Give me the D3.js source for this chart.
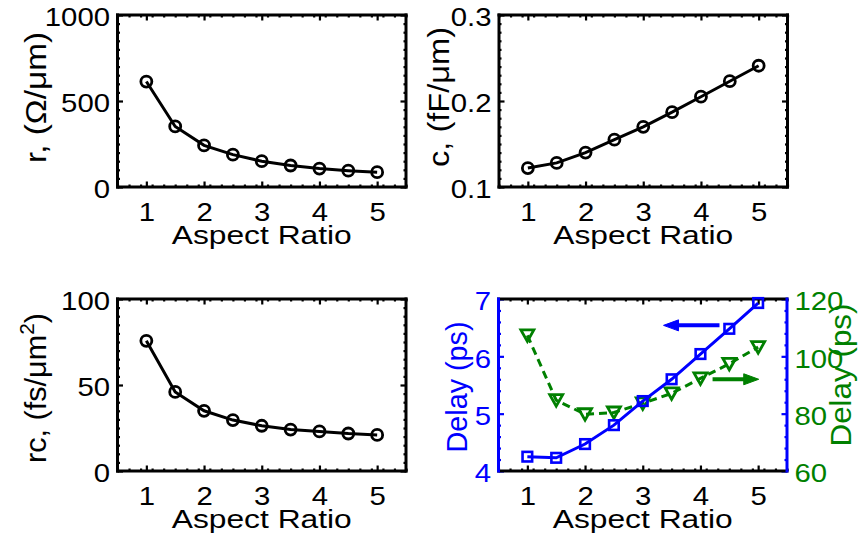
<!DOCTYPE html>
<html>
<head>
<meta charset="utf-8">
<script src="https://cdn.jsdelivr.net/npm/d3@7"></script>
<style>
  body { margin: 0; background: #fff; }
  svg { display: block; }
</style>
</head>
<body>
<svg id="chart" width="861" height="544"></svg>
<script>
// Interconnect parameters versus wire aspect ratio
const aspectRatio  = [1, 1.5, 2, 2.5, 3, 3.5, 4, 4.5, 5];
const resistance   = [613, 352, 242, 188, 150, 125, 107, 95, 86];          // Ω/µm
const capacitance  = [0.122, 0.128, 0.140, 0.155, 0.170, 0.187, 0.205, 0.223, 0.241]; // fF/µm
const rcProduct    = [75.7, 46, 35, 29.6, 26.3, 24.1, 23, 21.8, 21];      // fs/µm²
const delayLeft    = [4.25, 4.23, 4.47, 4.80, 5.22, 5.60, 6.04, 6.48, 6.93]; // ps, left axis
const delayRight   = [107.3, 84.7, 79.8, 80.4, 83.6, 87.1, 92.3, 97.4, 103.2]; // ps, right axis

// tick labels
const xTicks          = [1, 2, 3, 4, 5];
const rTicks          = [0, 500, 1000];
const cTicks          = [0.1, 0.2, 0.3];
const rcTicks         = [0, 50, 100];
const delayTicks      = [4, 5, 6, 7];
const delayRightTicks = [60, 80, 100, 120];

// axis-pointer arrows (data coordinates)
const leftArrowX  = [4.33, 3.36];
const leftArrowY  = [6.54, 6.54];
const rightArrowX = [4.21, 5.01];
const rightArrowY = [92, 92];

const FONT = "'Liberation Sans', Arial, Helvetica, sans-serif";
const BLUE = "#0000ff", GREEN = "#008000", BLACK = "#000";
const W = 288.5, H = 172;
const TICK_FS = 25.5, TICK_SX = 1.15;
const plain = d => String(d);

const svg = d3.select("#chart");

function minorValues(domain, step, majors) {
  const n = Math.round((domain[1] - domain[0]) / step);
  const out = [];
  for (let i = 0; i <= n; i++) {
    const v = domain[0] + i * step;
    if (!majors.some(m => Math.abs(m - v) < step / 10)) out.push(v);
  }
  return out;
}

function styleAxis(sel, color, showText) {
  sel.select(".domain").remove();
  sel.selectAll(".tick line").attr("stroke", color).attr("stroke-width", 2.2);
  const t = sel.selectAll(".tick text");
  if (!showText) { t.remove(); return; }
  t.attr("font-family", FONT).attr("font-size", TICK_FS).attr("fill", color)
   .attr("transform", `scale(${TICK_SX},1)`);
}

function addTicks(g, x, y, o) {
  const xMinor = minorValues(x.domain(), 0.2, xTicks);
  const yMinor = minorValues(y.domain(), o.yMinorStep, o.yTicks);
  // bottom
  g.append("g").attr("transform", `translate(0,${H})`)
    .call(d3.axisBottom(x).tickValues(xTicks).tickFormat(plain).tickSizeInner(-5.5).tickSizeOuter(0).tickPadding(16))
    .call(s => styleAxis(s, BLACK, true))
    .selectAll(".tick text").attr("dy", "0.71em");
  g.append("g").attr("transform", `translate(0,${H})`)
    .call(d3.axisBottom(x).tickValues(xMinor).tickSize(-2.5).tickFormat(""))
    .call(s => styleAxis(s, BLACK, false));
  // top
  g.append("g")
    .call(d3.axisTop(x).tickValues(xTicks).tickSize(-5.5).tickFormat(""))
    .call(s => styleAxis(s, BLACK, false));
  g.append("g")
    .call(d3.axisTop(x).tickValues(xMinor).tickSize(-2.5).tickFormat(""))
    .call(s => styleAxis(s, BLACK, false));
  // left
  const leftAxis = d3.axisLeft(y).tickValues(o.yTicks).tickSizeInner(-5.5).tickSizeOuter(0).tickPadding(6.5)
    .tickFormat(o.format ? d3.format(o.format) : plain);
  g.append("g").call(leftAxis).call(s => styleAxis(s, o.leftColor || BLACK, true))
    .selectAll(".tick text").attr("dy", "0.42em");
  g.append("g")
    .call(d3.axisLeft(y).tickValues(yMinor).tickSize(-2.5).tickFormat(""))
    .call(s => styleAxis(s, o.leftColor || BLACK, false));
  // right (mirror)
  g.append("g").attr("transform", `translate(${W},0)`)
    .call(d3.axisRight(y).tickValues(o.yTicks).tickSize(-5.5).tickFormat(""))
    .call(s => styleAxis(s, o.rightColor || BLACK, false));
  g.append("g").attr("transform", `translate(${W},0)`)
    .call(d3.axisRight(y).tickValues(yMinor).tickSize(-2.5).tickFormat(""))
    .call(s => styleAxis(s, o.rightColor || BLACK, false));
}

function frame(g, colors) {
  const sides = [
    [0, 0, W, 0, colors.top], [0, H, W, H, colors.bottom],
    [0, 0, 0, H, colors.left], [W, 0, W, H, colors.right]
  ];
  g.append("g").selectAll("line").data(sides).join("line")
    .attr("x1", d => d[0]).attr("y1", d => d[1]).attr("x2", d => d[2]).attr("y2", d => d[3])
    .attr("stroke", d => d[4]).attr("stroke-width", 3).attr("stroke-linecap", "square");
}

function xTitle(g) {
  g.append("text").attr("x", W / 2).attr("y", H + 57)
    .attr("text-anchor", "middle").attr("font-family", FONT).attr("font-size", 25.5)
    .attr("textLength", 180).attr("lengthAdjust", "spacingAndGlyphs")
    .text("Aspect Ratio");
}

function yTitle(bx, cy, len, color, build) {
  const t = svg.append("text")
    .attr("transform", `translate(${bx},${cy}) scale(1.2,1) rotate(-90)`)
    .attr("text-anchor", "middle").attr("font-family", FONT).attr("font-size", 25)
    .attr("fill", color).attr("textLength", len).attr("lengthAdjust", "spacingAndGlyphs");
  build(t);
}

const xScaleFor = () => d3.scaleLinear().domain([0.5, 5.5]).range([0, W]);

// ---- three single-axis panels ----
const singlePanels = [
  { left: 117.5, top: 15, yDomain: [0, 1000], yTicks: rTicks, yMinorStep: 50, values: resistance,
    title: t => t.text("r, (Ω/μm)"), tx: 46, ty: 97.5, tlen: 131 },
  { left: 499, top: 15, yDomain: [0.1, 0.3], yTicks: cTicks, yMinorStep: 0.01, format: ".1f", values: capacitance,
    title: t => t.text("c, (fF/μm)"), tx: 449, ty: 97, tlen: 140 },
  { left: 117.5, top: 299, yDomain: [0, 100], yTicks: rcTicks, yMinorStep: 5, values: rcProduct,
    title: t => { t.append("tspan").text("rc, (fs/μm");
                  t.append("tspan").attr("font-size", 17).attr("dy", -10).text("2");
                  t.append("tspan").attr("dy", 10).text(")"); },
    tx: 46, ty: 388, tlen: 150 }
];

singlePanels.forEach(p => {
  const g = svg.append("g").attr("transform", `translate(${p.left},${p.top})`);
  const x = xScaleFor();
  const y = d3.scaleLinear().domain(p.yDomain).range([H, 0]);
  addTicks(g, x, y, p);
  frame(g, { top: BLACK, bottom: BLACK, left: BLACK, right: BLACK });
  const pts = aspectRatio.map((a, i) => [a, p.values[i]]);
  g.append("path").datum(pts)
    .attr("d", d3.line().x(d => x(d[0])).y(d => y(d[1])))
    .attr("fill", "none").attr("stroke", BLACK).attr("stroke-width", 3);
  g.append("g").selectAll("circle").data(pts).join("circle")
    .attr("cx", d => x(d[0])).attr("cy", d => y(d[1])).attr("r", 5.5)
    .attr("fill", "none").attr("stroke", BLACK).attr("stroke-width", 2.8);
  xTitle(g);
  yTitle(p.tx, p.ty, p.tlen, BLACK, p.title);
});

// ---- delay panel with two y axes ----
(function () {
  const g = svg.append("g").attr("transform", "translate(498.5,299)");
  const x = xScaleFor();
  const yL = d3.scaleLinear().domain([4, 7]).range([H, 0]);
  const yR = d3.scaleLinear().domain([60, 120]).range([H, 0]);
  addTicks(g, x, yL, { yTicks: delayTicks, yMinorStep: 0.2, leftColor: BLUE, rightColor: BLUE });

  // right-hand tick labels
  g.append("g").attr("transform", `translate(${W},0)`)
    .call(d3.axisRight(yR).tickValues(delayRightTicks).tickFormat(plain).tickSize(0).tickPadding(6.5))
    .call(s => styleAxis(s, GREEN, true))
    .selectAll(".tick text").attr("dy", "0.42em");

  frame(g, { top: BLACK, bottom: BLACK, left: BLUE, right: BLUE });

  // right-axis series (dashed, triangles)
  const ptsR = aspectRatio.map((a, i) => [a, delayRight[i]]);
  g.append("path").datum(ptsR)
    .attr("d", d3.line().x(d => x(d[0])).y(d => yR(d[1])))
    .attr("fill", "none").attr("stroke", GREEN).attr("stroke-width", 3)
    .attr("stroke-dasharray", "8,5");
  g.append("g").selectAll("path").data(ptsR).join("path")
    .attr("transform", d => `translate(${x(d[0])},${yR(d[1])})`)
    .attr("d", "M-6.5,-5.5L6.5,-5.5L0,6Z")
    .attr("fill", "none").attr("stroke", GREEN).attr("stroke-width", 2.8).attr("stroke-linejoin", "miter");

  // left-axis series (solid, squares)
  const ptsL = aspectRatio.map((a, i) => [a, delayLeft[i]]);
  g.append("path").datum(ptsL)
    .attr("d", d3.line().x(d => x(d[0])).y(d => yL(d[1])))
    .attr("fill", "none").attr("stroke", BLUE).attr("stroke-width", 3);
  g.append("g").selectAll("rect").data(ptsL).join("rect")
    .attr("x", d => x(d[0]) - 4.8).attr("y", d => yL(d[1]) - 4.8)
    .attr("width", 9.6).attr("height", 9.6)
    .attr("fill", "none").attr("stroke", BLUE).attr("stroke-width", 2.6);

  // arrows pointing to each series' axis
  function arrow(x0, y0, x1, y1, color) {
    const dir = Math.sign(x1 - x0);
    const head = 15, half = 5.5;
    g.append("line").attr("x1", x0).attr("y1", y0).attr("x2", x1 - dir * head * 0.8).attr("y2", y1)
      .attr("stroke", color).attr("stroke-width", 4);
    g.append("path")
      .attr("d", `M${x1},${y1}L${x1 - dir * head},${y1 - half}L${x1 - dir * head},${y1 + half}Z`)
      .attr("fill", color).attr("stroke", color).attr("stroke-width", 1);
  }
  arrow(x(leftArrowX[0]), yL(leftArrowY[0]), x(leftArrowX[1]), yL(leftArrowY[1]), BLUE);
  arrow(x(rightArrowX[0]), yR(rightArrowY[0]), x(rightArrowX[1]), yR(rightArrowY[1]), GREEN);

  xTitle(g);
  yTitle(467, 387, 131, BLUE, t => t.text("Delay (ps)"));
  yTitle(850.5, 375, 143, GREEN, t => t.text("Delay (ps)"));
})();
</script>
</body>
</html>
